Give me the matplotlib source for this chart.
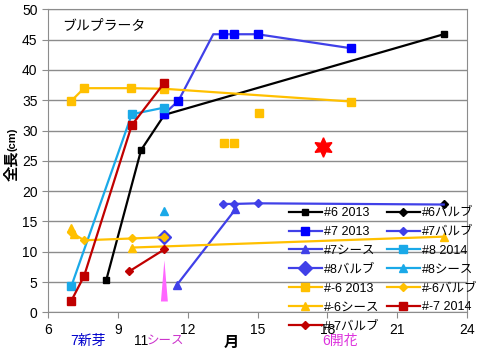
import numpy as np
import matplotlib
matplotlib.use('Agg')
from matplotlib import pyplot as plt

plt.rcParams['font.family'] = ['Liberation Sans', 'Noto Sans CJK JP', 'DejaVu Sans']

# データ (月, 全長cm)
x6_2013 = [8.5, 10.0, 11.0, 23.0]
y6_2013 = [5.3, 26.8, 32.6, 45.9]
x6_bulb = [23.0]
y6_bulb = [17.9]
x7_2013 = [11.0, 11.6, 13.1, 13.5, 14.0, 15.0, 19.0]
y7_2013 = [32.8, 34.9, 45.9, 45.9, 45.9, 45.9, 43.6]
x7_bulb = [13.5, 14.0, 15.0, 23.0]
y7_bulb = [17.9, 17.9, 18.0, 17.8]
x7_sheath = [11.55, 14.05]
y7_sheath = [4.6, 17.0]
x8_2014 = [7.0, 9.6, 11.0]
y8_2014 = [4.3, 32.7, 33.8]
x8_bulb = [11.0]
y8_bulb = [12.4]
x8_sheath = [11.0]
y8_sheath = [16.8]
xm6_2013 = [7.0, 7.55, 9.55, 11.0, 19.0]
ym6_2013 = [34.9, 37.0, 37.0, 36.9, 34.8]
xm6_2013_extra = [13.55, 14.0, 15.05]
ym6_2013_extra = [27.9, 27.9, 32.9]
xm6_bulb = [7.0, 7.55, 9.6, 11.0]
ym6_bulb = [13.2, 11.9, 12.2, 12.4]
xm6_sheath = [7.0, 7.1, np.nan, 9.6, 23.0]
ym6_sheath = [13.9, 13.0, np.nan, 10.7, 12.5]
xm7_2014 = [7.0, 7.55, 9.6, 11.0]
ym7_2014 = [1.9, 6.0, 30.9, 37.9]
xm7_bulb = [9.5, 11.0]
ym7_bulb = [6.8, 10.4]

flower_x, flower_y = [17.8], [27.3]
wedge_x, wedge_y0, wedge_y1 = 11.0, 1.8, 8.6

c_black = '#000000'
c_blue = '#0000FF'
c_blue_l = '#4040E8'
c_sky = '#1AA9E8'
c_gold = '#FFC000'
c_red = '#C00000'

fig = plt.figure(figsize=(4.82, 3.58), dpi=100)
ax = fig.add_axes([48/482, 1-312.4/358, 419/482, 303/358])

lw = 1.6
ms = 5.5
h = []
h += ax.plot(x6_2013, y6_2013, color=c_black, lw=lw, marker='s', ms=4.5, label='#6 2013')
h += ax.plot(x6_bulb, y6_bulb, color=c_black, lw=lw, marker='D', ms=4.5, label='#6バルブ')
h += ax.plot(x7_2013, y7_2013, color=c_blue_l, lw=lw, marker='s', ms=ms, mfc=c_blue, mec=c_blue,
             markevery=[0, 1, 3, 4, 5, 6], label='#7 2013')
h += ax.plot(x7_bulb, y7_bulb, color=c_blue_l, lw=lw, marker='D', ms=4.5, mfc=c_blue_l, mec=c_blue_l,
             markevery=[0, 1, 2], label='#7バルブ')
h += ax.plot(x7_sheath, y7_sheath, color=c_blue_l, lw=lw, marker='^', ms=ms, label='#7シース')
h += ax.plot(x8_2014, y8_2014, color=c_sky, lw=lw, marker='s', ms=ms, label='#8 2014')
h += ax.plot(x8_bulb, y8_bulb, color=c_blue_l, lw=lw, marker='D', ms=7, label='#8バルブ')
h += ax.plot(x8_sheath, y8_sheath, color=c_sky, lw=lw, marker='^', ms=ms, label='#8シース')
h += ax.plot(xm6_2013, ym6_2013, color=c_gold, lw=lw, marker='s', ms=ms, label='#-6 2013')
ax.plot(xm6_2013_extra, ym6_2013_extra, ls='none', color=c_gold, marker='s', ms=ms)
h += ax.plot(xm6_bulb, ym6_bulb, color=c_gold, lw=lw, marker='D', ms=4.5, label='#-6バルブ')
h += ax.plot(xm6_sheath, ym6_sheath, color=c_gold, lw=lw, marker='^', ms=ms, label='#-6シース')
h += ax.plot(xm7_2014, ym7_2014, color=c_red, lw=lw, marker='s', ms=ms, label='#-7 2014')
h += ax.plot(xm7_bulb, ym7_bulb, color=c_red, lw=lw, marker='D', ms=4.5, label='#-7バルブ')

ax.plot(flower_x, flower_y, ls='none', marker=(6, 1, 0), ms=14, color='#FF0000')
ax.annotate('', xy=(wedge_x, wedge_y1), xytext=(wedge_x, wedge_y0),
            arrowprops=dict(arrowstyle='wedge,tail_width=0.5,shrink_factor=0.5',
                            color='#FF66FF', lw=0, shrinkA=0, shrinkB=0))

ax.set_xlim(6, 24)
ax.set_ylim(0, 50)
ax.set_xticks(np.arange(6, 25, 3))
ax.set_yticks(np.arange(0, 51, 5))
ax.grid(axis='y', color='#8C8C8C', lw=1)
ax.set_axisbelow(True)
for s in ax.spines.values():
    s.set_color('#8C8C8C')
ax.tick_params(colors='#8C8C8C', labelcolor='black', labelsize=10, length=4)

ax.text(0.035, 0.948, 'ブルプラータ', transform=ax.transAxes, fontsize=10, va='center')

# 凡例 (2列、行順)
order = [0, 2, 4, 6, 8, 10, 12, 1, 3, 5, 7, 9, 11]
hh = [h[i] for i in order]
ax.legend(hh, [x.get_label() for x in hh], ncol=2, frameon=False, fontsize=9,
          loc='upper left', bbox_to_anchor=(289/482, 1-207/358), bbox_transform=fig.transFigure,
          borderpad=0, borderaxespad=0, handlelength=2.6, handletextpad=0.2,
          labelspacing=0.55, columnspacing=0.6)

fig.text(12/482, 1-166/358, '全長', rotation=90, ha='center', va='center', fontsize=11, weight='bold')
fig.text(12/482, 1-139/358, '(cm)', rotation=90, ha='center', va='center', fontsize=8, weight='bold')
fig.text(231/482, 1-343/358, '月', ha='center', va='center', fontsize=11, weight='bold')
fig.text(88/482, 1-341/358, '7新芽', ha='center', va='center', fontsize=10, color='#0000CC')
fig.text(134/482, 1-341/358, '11', ha='left', va='center', fontsize=10, color='black')
fig.text(147/482, 1-341/358, 'シース', ha='left', va='center', fontsize=9, color='#CC33CC')
fig.text(340/482, 1-341/358, '6開花', ha='center', va='center', fontsize=10, color='#DD33DD')

fig.savefig('out.png', dpi=100)
